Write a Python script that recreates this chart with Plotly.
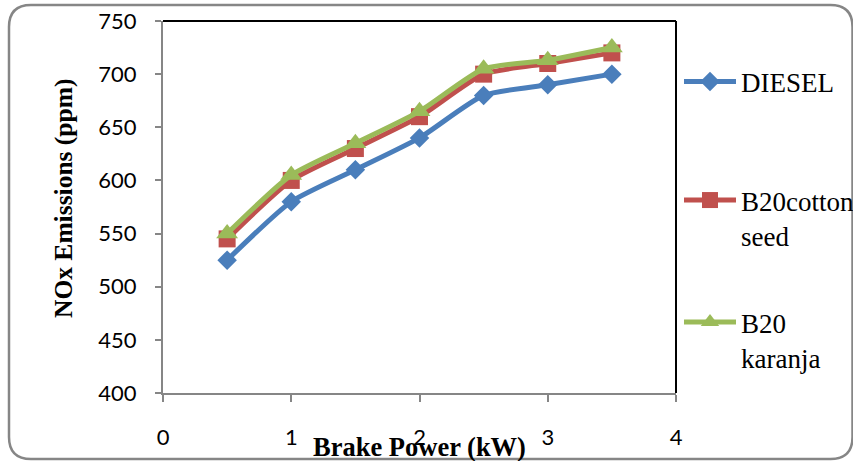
import plotly.graph_objects as go

brake_power = [0.5, 1.0, 1.5, 2.0, 2.5, 3.0, 3.5]
diesel = [525, 580, 610, 640, 680, 690, 700]
b20_cotton = [545, 600, 630, 660, 700, 710, 720]
b20_karanja = [550, 605, 635, 665, 705, 713, 725]
x_ticks = [0, 1, 2, 3, 4]
y_ticks = [400, 450, 500, 550, 600, 650, 700, 750]

W, H = 853, 461
L, R, T, B = 163, 177, 21, 68
PW, PH = W - L - R, H - T - B

def px_x(p):
    return (p - L) / PW

def px_y(p):
    return (H - B - p) / PH

tick_font = dict(family="Lato, Open Sans, sans-serif", size=22, color="#000000")
serif = "Liberation Serif, Times New Roman, serif"

fig = go.Figure()
fig.add_trace(go.Scatter(
    x=brake_power, y=diesel, name="DIESEL", mode="lines+markers",
    line=dict(color="#4A7EBB", width=5, shape="spline", smoothing=0.6),
    marker=dict(symbol="diamond", size=15, color="#4A7EBB"),
    legend="legend"))
fig.add_trace(go.Scatter(
    x=brake_power, y=b20_cotton, name="B20cotton<br>seed", mode="lines+markers",
    line=dict(color="#C0504D", width=5, shape="spline", smoothing=0.6),
    marker=dict(symbol="square", size=17, color="#C0504D"),
    legend="legend2"))
fig.add_trace(go.Scatter(
    x=brake_power, y=b20_karanja, name="B20<br>karanja", mode="lines+markers",
    line=dict(color="#9BBB59", width=5, shape="spline", smoothing=0.6),
    marker=dict(symbol="triangle-up", size=19, color="#9BBB59"),
    legend="legend3"))

legend_common = dict(xanchor="left", yanchor="middle", valign="top",
                     font=dict(family=serif, size=27, color="#000000"),
                     bgcolor="rgba(0,0,0,0)", itemwidth=52)
fig.update_layout(
    width=W, height=H,
    margin=dict(l=L, r=R, t=T, b=B, autoexpand=False),
    paper_bgcolor="white", plot_bgcolor="white",
    showlegend=True,
    legend=dict(x=px_x(679), y=px_y(82), **legend_common),
    legend2=dict(x=px_x(679), y=px_y(218), **legend_common),
    legend3=dict(x=px_x(679), y=px_y(340), **legend_common),
    xaxis=dict(range=[0, 4], tickvals=x_ticks, showgrid=False, zeroline=False,
               showline=True, linecolor="#868686", linewidth=2,
               ticks="outside", ticklen=7, tickwidth=2, tickcolor="#868686",
               tickfont=tick_font, ticklabelstandoff=17),
    yaxis=dict(range=[400, 750], tickvals=y_ticks, showgrid=False, zeroline=False,
               showline=True, linecolor="#868686", linewidth=2,
               ticks="outside", ticklen=6, tickwidth=2, tickcolor="#868686",
               tickfont=tick_font, ticklabelstandoff=14),
)

# plot-area top/right border
fig.add_shape(type="line", xref="paper", yref="paper", x0=0, x1=1, y0=1, y1=1,
              line=dict(color="#000000", width=2))
fig.add_shape(type="line", xref="paper", yref="paper", x0=1, x1=1, y0=0, y1=1,
              line=dict(color="#000000", width=2))

# rounded outer frame
x0, x1, y0, y1, r = 9, 852.5, 5, 459, 22
rx, ry = r / PW, r / PH
X0, X1, Y0, Y1 = px_x(x0), px_x(x1), px_y(y1), px_y(y0)
path = (f"M {X0+rx},{Y1} L {X1-rx},{Y1} Q {X1},{Y1} {X1},{Y1-ry} "
        f"L {X1},{Y0+ry} Q {X1},{Y0} {X1-rx},{Y0} L {X0+rx},{Y0} "
        f"Q {X0},{Y0} {X0},{Y0+ry} L {X0},{Y1-ry} Q {X0},{Y1} {X0+rx},{Y1} Z")
fig.add_shape(type="path", xref="paper", yref="paper", path=path,
              line=dict(color="#868686", width=2.5))

fig.add_annotation(text="<b>Brake Power (kW)</b>", xref="paper", yref="paper",
                   x=px_x(419), y=px_y(447), showarrow=False,
                   xanchor="center", yanchor="middle",
                   font=dict(family=serif, size=26.5, color="#000000"))
fig.add_annotation(text="<b>NOx Emissions (ppm)</b>", xref="paper", yref="paper",
                   x=px_x(63), y=px_y(199), showarrow=False, textangle=-90,
                   xanchor="center", yanchor="middle",
                   font=dict(family=serif, size=25.5, color="#000000"))

post = """
document.documentElement.style.margin='0';
document.documentElement.style.padding='0';
document.documentElement.style.overflow='hidden';
document.body.style.margin='0';
document.body.style.padding='0';
document.body.style.overflow='hidden';
"""
fig.write_html("out.html", config={"displayModeBar": False}, post_script=post)
